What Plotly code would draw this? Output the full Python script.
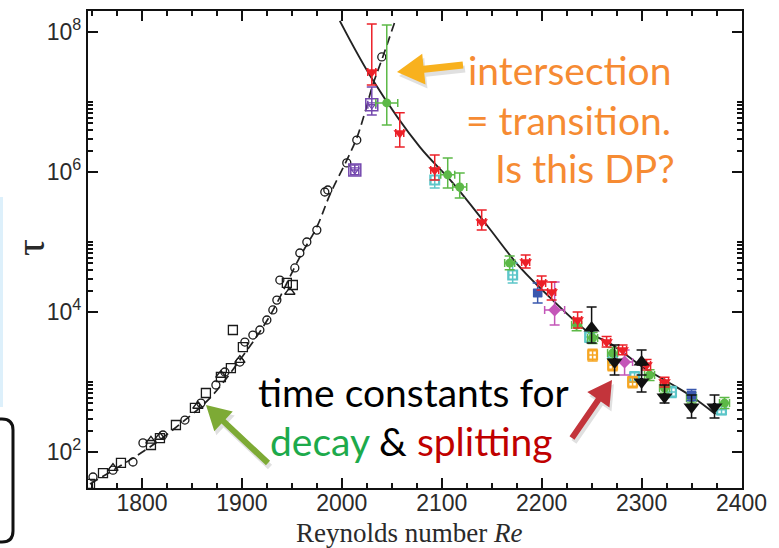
import math
import plotly.graph_objects as go

# ---------------- data ----------------
# fitted curves
decay_fit_re = [1748, 1778, 1808, 1838, 1868, 1898, 1928, 1958, 1975, 1988, 2005, 2015, 2023, 2031, 2041, 2053]
decay_fit_tau = [35, 63, 118, 250, 590, 2060, 8800, 6.1e4, 1.64e5, 4.7e5, 1.48e6, 3.06e6, 6.97e6, 1.75e7, 4.4e7, 1.39e8]

split_fit_re = [1998, 2031, 2078, 2111, 2145, 2178, 2211, 2248, 2268, 2301, 2328, 2351, 2374]
split_fit_tau = [1.44e8, 2.06e7, 2.28e6, 7.0e5, 1.75e5, 4.4e4, 1.48e4, 5000, 3600, 1640, 970, 610, 347]

# decay data (open black markers)
circ_re = [1751, 1771, 1791, 1801, 1821, 1843, 1859, 1874, 1883, 1898, 1903, 1911, 1918, 1925, 1931, 1935,
           1938, 1953, 1958, 1965, 1975, 1983, 1986, 2005, 2015, 2040]
circ_tau = [44, 55, 72, 135, 175, 286, 500, 906, 1390, 1930, 3720, 4690, 5530, 7690, 1.07e4, 1.48e4,
            2.86e4, 4.26e4, 6.97e4, 1.0e5, 1.48e5, 5.18e5, 5.53e5, 1.35e6, 2.86e6, 4.4e7]
sq_re = [1748, 1761, 1779, 1809, 1818, 1834, 1853, 1864, 1879, 1889, 1901, 1891, 1945, 1951]
sq_tau = [35, 50, 70, 126, 158, 243, 426, 697, 1180, 1580, 3160, 5530, 2.6e4, 2.43e4]
tri_re = [1771, 1809, 1818, 1856, 1879, 1898, 1948]
tri_tau = [59, 144, 164, 454, 1260, 2060, 1.93e4]

# splitting / decay data with error bars: Re, tau, tau_low, tau_high
red_re = [2030, 2058, 2093, 2140, 2184, 2200, 2210, 2236, 2265, 2281, 2305, 2323]
red_tau = [2.69e7, 3.6e6, 1.07e6, 1.93e5, 5.2e4, 2.6e4, 1.93e4, 7700, 3720, 2860, 1750, 1000]
red_lo = [1.75e7, 2.28e6, 7.7e5, 1.48e5, 4.26e4, 2.06e4, 1.48e4, 5900, 3160, 2450, 1480, 850]
red_hi = [1.3e8, 7.0e6, 1.75e6, 2.86e5, 6.5e4, 3.27e4, 2.69e4, 1.0e4, 4470, 3390, 2090, 1170]

green_re = [2045, 2106, 2118, 2168, 2235, 2251, 2271, 2308, 2323, 2350, 2383]
green_tau = [9.7e6, 9.1e5, 6.1e5, 5.0e4, 6500, 4260, 2590, 1260, 820, 590, 500]
green_lo = [4.7e6, 5.9e5, 4.26e5, 4.0e4, 5400, 3550, 2150, 1050, 690, 500, 420]
green_hi = [1.26e8, 1.58e6, 9.7e5, 6.3e4, 7800, 5100, 3100, 1500, 980, 700, 600]
green_xerr = [11, 7, 7, 5, 5, 5, 5, 5, 5, 5, 5]

cyan_re = [2093, 2171, 2248, 2271, 2293, 2330, 2380]
cyan_tau = [7.7e5, 3.38e4, 4400, 2200, 1180, 720, 400]
cyan_lo = [5.9e5, 2.6e4, 3700, 1850, 990, 600, 340]
cyan_hi = [1.14e6, 5.0e4, 5200, 2600, 1400, 860, 480]

blue_re = [2196, 2350]
blue_tau = [1.87e4, 650]
blue_lo = [1.35e4, 540]
blue_hi = [2.6e4, 780]

magenta_re = [2213, 2283]
magenta_tau = [1.07e4, 1930]
magenta_lo = [6500, 1260]
magenta_hi = [2.69e4, 2860]
magenta_xerr = [10, 8]

orange_re = [2251, 2271, 2291]
orange_tau = [2430, 1750, 1000]
orange_lo = [2000, 1450, 830]
orange_hi = [2950, 2100, 1200]

purple_re = [2013, 2030]
purple_tau = [1.07e6, 9.1e6]
purple_lo = [9.1e5, 6.5e6]
purple_hi = [1.26e6, 1.64e7]

bup_re = [2250, 2300]
bup_tau = [5900, 1930]
bup_lo = [3600, 1260]
bup_hi = [1.18e4, 2860]

bdn_re = [2273, 2300, 2323, 2350, 2373]
bdn_tau = [1930, 1000, 610, 440, 440]
bdn_lo = [1260, 720, 500, 306, 306]
bdn_hi = [3380, 1750, 906, 650, 650]

x_ticks = [1800, 1900, 2000, 2100, 2200, 2300, 2400]
y_ticks = [1e2, 1e4, 1e6, 1e8]
y_ticktext = ["10<sup>2</sup>", "10<sup>4</sup>", "10<sup>6</sup>", "10<sup>8</sup>"]
y_minor = [k * 10 ** d for d in (2, 4, 6) for k in range(2, 11)]

# ---------------- layout geometry ----------------
W, H = 779, 548
L, R, T, B = 88, 37, 11, 60
PW, PH = W - L - R, H - T - B


def pp(x, y):
    return (x - L) / PW, (H - B - y) / PH


fig = go.Figure()

# fitted lines
fig.add_trace(go.Scatter(x=decay_fit_re, y=decay_fit_tau, mode="lines", line_shape="spline",
                         line=dict(color="#222", width=1.7, dash="9px,5px"), hoverinfo="skip"))
fig.add_trace(go.Scatter(x=split_fit_re, y=split_fit_tau, mode="lines", line_shape="spline",
                         line=dict(color="#222", width=1.9), hoverinfo="skip"))

# decay (open black markers)
for xs, ys, sym, sz in [(circ_re, circ_tau, "circle-open", 8), (sq_re, sq_tau, "square-open", 9),
                        (tri_re, tri_tau, "triangle-up-open", 9)]:
    fig.add_trace(go.Scatter(x=xs, y=ys, mode="markers",
                             marker=dict(symbol=sym, size=sz, color="#1a1a1a", line=dict(width=1.3, color="#1a1a1a"))))


def err_trace(xs, ys, lo, hi, color, sym, size, xerr=None, lw=None):
    ey = dict(type="data", symmetric=False,
              array=[h - y for h, y in zip(hi, ys)],
              arrayminus=[y - l for l, y in zip(lo, ys)],
              color=color, thickness=1.5, width=5)
    ex = dict(type="data", array=xerr if xerr else [4] * len(xs), color=color, thickness=1.5, width=4)
    mk = dict(symbol=sym, size=size, color=color)
    if lw:
        mk["line"] = dict(width=lw, color=color)
    return go.Scatter(x=xs, y=ys, mode="markers", marker=mk, error_y=ey, error_x=ex)


fig.add_trace(err_trace(cyan_re, cyan_tau, cyan_lo, cyan_hi, "#5CC6C9", "square-open", 9, lw=2))
fig.add_trace(err_trace(orange_re, orange_tau, orange_lo, orange_hi, "#F6A623", "square-open", 9, lw=2))
fig.add_trace(err_trace(purple_re, purple_tau, purple_lo, purple_hi, "#7448AE", "square-open", 12, lw=1.5))
fig.add_trace(go.Scatter(x=purple_re, y=purple_tau, mode="markers",
                         marker=dict(symbol="triangle-down-open", size=8, color="#7448AE", line=dict(width=1.2))))
fig.add_trace(err_trace(green_re, green_tau, green_lo, green_hi, "#5CB947", "circle", 9, xerr=green_xerr))
fig.add_trace(err_trace(blue_re, blue_tau, blue_lo, blue_hi, "#3A58AE", "square", 9))
fig.add_trace(err_trace(magenta_re, magenta_tau, magenta_lo, magenta_hi, "#C455B8", "diamond", 10, xerr=magenta_xerr))
fig.add_trace(err_trace(red_re, red_tau, red_lo, red_hi, "#EC2028", "triangle-down", 11))
fig.add_trace(err_trace(bup_re, bup_tau, bup_lo, bup_hi, "#111", "triangle-up", 14, xerr=[1, 1]))
fig.add_trace(err_trace(bdn_re, bdn_tau, bdn_lo, bdn_hi, "#111", "triangle-down", 14, xerr=[1] * 5))

# ---------------- decorations ----------------
shapes = []


def arrow(tail, tip, color, w, hl, hw, shadow=True):
    dx, dy = tip[0] - tail[0], tip[1] - tail[1]
    n = math.hypot(dx, dy)
    ux, uy = dx / n, dy / n
    nx, ny = -uy, ux
    bx, by = tip[0] - ux * hl, tip[1] - uy * hl
    pts = [(tail[0] + nx * w / 2, tail[1] + ny * w / 2), (bx + nx * w / 2, by + ny * w / 2),
           (bx + nx * hw / 2, by + ny * hw / 2), tip,
           (bx - nx * hw / 2, by - ny * hw / 2), (bx - nx * w / 2, by - ny * w / 2),
           (tail[0] - nx * w / 2, tail[1] - ny * w / 2)]
    out = []
    for off, col in ([((2, 4), "rgba(0,0,0,0.12)")] if shadow else []) + [((0, 0), color)]:
        cc = [pp(p[0] + off[0], p[1] + off[1]) for p in pts]
        path = "M " + " L ".join(f"{a:.5f},{b:.5f}" for a, b in cc) + " Z"
        out.append(dict(type="path", xref="paper", yref="paper", path=path,
                        fillcolor=col, line=dict(width=0), layer="above"))
    return out


shapes += arrow((463, 65), (397, 72), "#F8B11E", 7, 27, 31)
shapes += arrow((268, 463), (206, 405), "#7DAA35", 6, 24, 27)
shapes += arrow((572, 438), (612, 380), "#C3343B", 6, 24, 27)

# slide elements at the left edge
x0, y0 = pp(0, 197)
x1, y1 = pp(3, 407)
shapes.append(dict(type="rect", xref="paper", yref="paper", x0=x0, x1=x1, y0=y1, y1=y0,
                   fillcolor="#DDF0FB", line=dict(width=0)))
rr = [pp(-10, 419), pp(2, 419), pp(13, 419), pp(13, 430), pp(13, 531), pp(13, 542), pp(2, 542), pp(-10, 542)]
rpath = (f"M {rr[0][0]:.5f},{rr[0][1]:.5f} L {rr[1][0]:.5f},{rr[1][1]:.5f} "
         f"Q {rr[2][0]:.5f},{rr[2][1]:.5f} {rr[3][0]:.5f},{rr[3][1]:.5f} "
         f"L {rr[4][0]:.5f},{rr[4][1]:.5f} Q {rr[5][0]:.5f},{rr[5][1]:.5f} {rr[6][0]:.5f},{rr[6][1]:.5f} "
         f"L {rr[7][0]:.5f},{rr[7][1]:.5f}")
shapes.append(dict(type="path", xref="paper", yref="paper", path=rpath, line=dict(color="#111", width=3)))

ann = []
ORANGE = "#F68B33"
TXT_FONT = "Lato"
TSIZE = 39
for txt, (x, y) in [("intersection", (673, 70)), ("= transition.", (673, 120)), ("Is this DP?", (677, 168))]:
    px_, py_ = pp(x, y)
    ann.append(dict(text=txt, x=px_, y=py_, xref="paper", yref="paper", xanchor="right", yanchor="middle",
                    showarrow=False, font=dict(family=TXT_FONT, size=TSIZE, color=ORANGE)))
px_, py_ = pp(413, 392)
ann.append(dict(text="time constants for", x=px_, y=py_, xref="paper", yref="paper", xanchor="center",
                yanchor="middle", showarrow=False, font=dict(family=TXT_FONT, size=TSIZE, color="#000")))
px_, py_ = pp(411, 441)
ann.append(dict(text='<span style="color:#1DAA4B">decay</span> &amp; <span style="color:#C00000">splitting</span>',
                x=px_, y=py_, xref="paper", yref="paper", xanchor="center", yanchor="middle", showarrow=False,
                font=dict(family=TXT_FONT, size=TSIZE, color="#000")))
px_, py_ = pp(409, 533)
ann.append(dict(text="Reynolds number <i>Re</i>", x=px_, y=py_, xref="paper", yref="paper", xanchor="center",
                yanchor="middle", showarrow=False, font=dict(family="Liberation Serif", size=27, color="#2a2a2a")))
px_, py_ = pp(30, 248)
ann.append(dict(text="τ", x=px_, y=py_, xref="paper", yref="paper", xanchor="center", yanchor="middle",
                textangle=-90, showarrow=False, font=dict(family="Liberation Serif", size=42, color="#2a2a2a")))

axis_common = dict(showline=True, linecolor="#111", linewidth=2.2, mirror="ticks", ticks="inside",
                   ticklen=10, tickwidth=2, tickcolor="#111", showgrid=False, zeroline=False,
                   tickfont=dict(family="Liberation Sans", size=23, color="#2a2a2a"))

fig.update_layout(
    width=W, height=H, margin=dict(l=L, r=R, t=T, b=B, autoexpand=False),
    paper_bgcolor="white", plot_bgcolor="white", showlegend=False,
    xaxis=dict(range=[1746, 2400.5], tickmode="array", tickvals=x_ticks, automargin=False,
               ticklabelstandoff=-7,
               minor=dict(tickmode="linear", tick0=1750, dtick=25, ticks="inside", ticklen=5,
                          tickwidth=1.5, tickcolor="#111", showgrid=False),
               **axis_common),
    yaxis=dict(type="log", range=[1.486, 8.3], tickmode="array", tickvals=y_ticks, ticktext=y_ticktext,
               automargin=False,
               minor=dict(tickmode="array", tickvals=y_minor, ticks="inside", ticklen=5, tickwidth=1.5,
                          tickcolor="#111", showgrid=False),
               **axis_common),
    shapes=shapes, annotations=ann,
)

fig.write_html("out.html")
